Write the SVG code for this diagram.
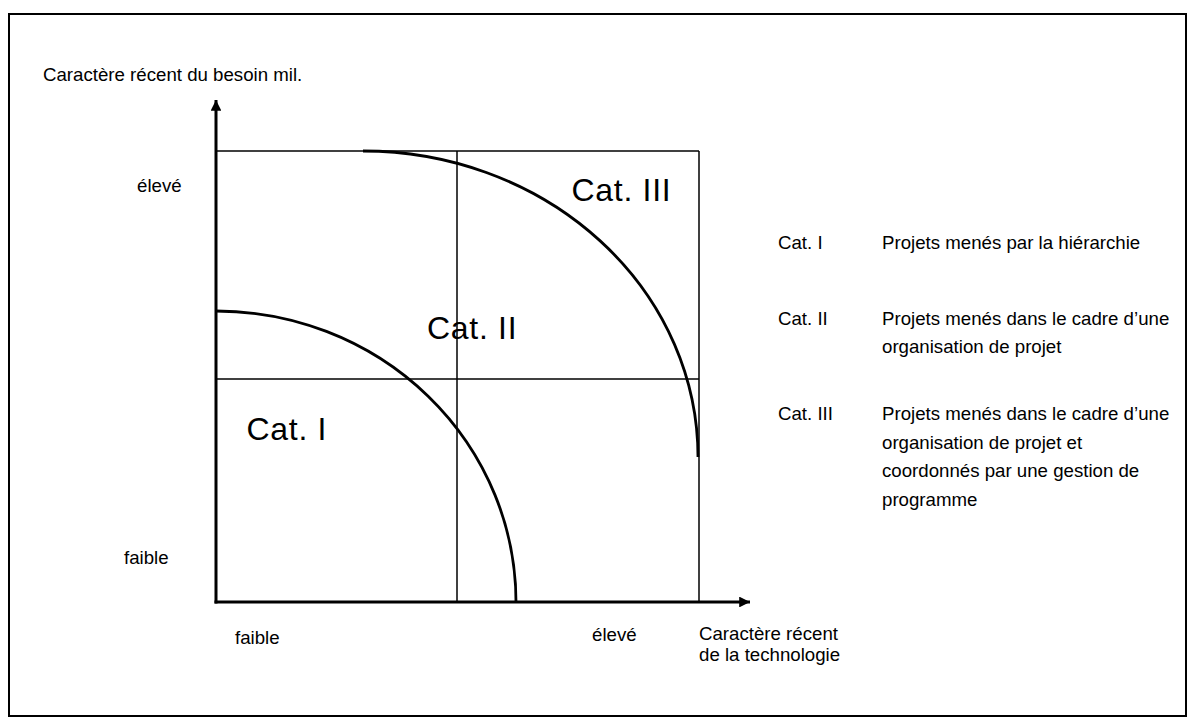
<svg xmlns="http://www.w3.org/2000/svg" width="1195" height="724" viewBox="0 0 1195 724">
  <style>
    .t { font-family: "Liberation Sans", Arial, sans-serif; font-size: 18.67px; fill: #000; }
    .big { font-family: "Liberation Sans", Arial, sans-serif; font-size: 32px; letter-spacing: 0.7px; fill: #000; }
    .grid { stroke: #000; stroke-width: 1.5; fill: none; }
    .axis { stroke: #000; stroke-width: 3; fill: none; }
    .arc { stroke: #000; stroke-width: 2.8; fill: none; }
  </style>
  <defs>
    <marker id="ah" viewBox="0 0 10 10" refX="10" refY="5" markerWidth="3.6" markerHeight="3.6" markerUnits="strokeWidth" orient="auto">
      <path d="M0,0 L10,5 L0,10 Z" fill="#000"/>
    </marker>
  </defs>
  <rect x="9" y="14" width="1177" height="702" fill="#fff" stroke="#000" stroke-width="2"/>

  <g id="grid">
    <line class="grid" x1="216" y1="151" x2="699" y2="151"/>
    <line class="grid" x1="699" y1="151" x2="699" y2="602"/>
    <line class="grid" x1="457" y1="151" x2="457" y2="602"/>
    <line class="grid" x1="216" y1="379" x2="699" y2="379"/>
  </g>

  <g id="connectors">
    <line class="axis" x1="216" y1="603.5" x2="216" y2="100" marker-end="url(#ah)"/>
    <line class="axis" x1="214.5" y1="602" x2="750" y2="602" marker-end="url(#ah)"/>
  </g>

  <g id="curves">
    <path class="arc" d="M363,151 A335,306 0 0 1 698,457"/>
    <path class="arc" d="M216,311 A300,291 0 0 1 516,602"/>
  </g>

  <g id="title-y">
    <text class="t" x="43" y="81">Caractère récent du besoin mil.</text>
  </g>
  <g id="y-labels">
    <text class="t" x="137" y="192">élevé</text>
    <text class="t" x="124" y="564">faible</text>
  </g>
  <g id="x-labels">
    <text class="t" x="235" y="644">faible</text>
    <text class="t" x="592" y="641">élevé</text>
    <text class="t" x="699" y="640">Caractère récent</text>
    <text class="t" x="699" y="661">de la technologie</text>
  </g>

  <g id="cat1"><text class="big" x="246.5" y="440">Cat. I</text></g>
  <g id="cat2"><text class="big" x="427" y="339">Cat. II</text></g>
  <g id="cat3"><text class="big" x="571.5" y="201">Cat. III</text></g>

  <g id="legend1">
    <text class="t" x="778" y="249">Cat. I</text>
    <text class="t" x="882" y="249">Projets menés par la hiérarchie</text>
  </g>
  <g id="legend2">
    <text class="t" x="778" y="325">Cat. II</text>
    <text class="t" x="882" y="325">Projets menés dans le cadre d’une</text>
    <text class="t" x="882" y="353">organisation de projet</text>
  </g>
  <g id="legend3">
    <text class="t" x="778" y="420">Cat. III</text>
    <text class="t" x="882" y="420">Projets menés dans le cadre d’une</text>
    <text class="t" x="882" y="448.5">organisation de projet et</text>
    <text class="t" x="882" y="477">coordonnés par une gestion de</text>
    <text class="t" x="882" y="505.5">programme</text>
  </g>
</svg>
